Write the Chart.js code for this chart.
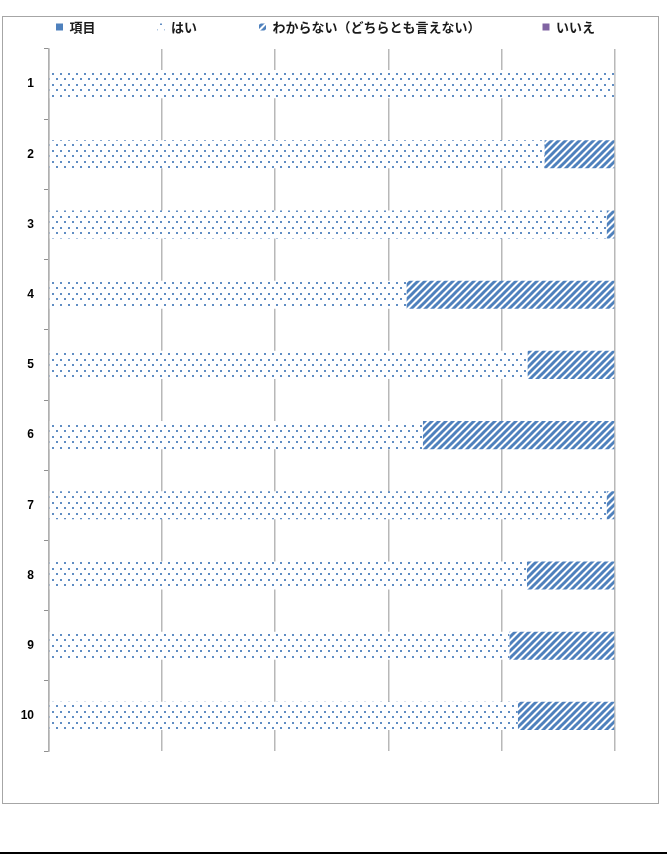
<!DOCTYPE html>
<html lang="ja">
<head>
<meta charset="utf-8">
<title>アンケート結果</title>
<script src="https://cdn.jsdelivr.net/npm/chart.js@4/dist/chart.umd.min.js"></script>
<style>
  html, body { margin: 0; padding: 0; background: #fff; }
  .chart-frame {
    position: absolute;
    left: 2px;
    top: 16px;
    width: 655px;
    height: 786px;
    border: 1px solid #a6a6a6;
  }
  .bottom-rule {
    position: absolute;
    left: 0;
    top: 852px;
    width: 667px;
    height: 2px;
    background: #000;
  }
</style>
</head>
<body>
<div class="chart-frame">
  <canvas id="surveyChart" width="655" height="786"></canvas>
</div>
<div class="bottom-rule"></div>

<script>
// question numbers
const categories = ['1', '2', '3', '4', '5', '6', '7', '8', '9', '10'];

// share of answers (%)
const itemValues = [0, 0, 0, 0, 0, 0, 0, 0, 0, 0];
const yesValues = [100, 87.6, 98.6, 63.2, 84.6, 66.1, 98.6, 84.5, 81.4, 82.9];
const unsureValues = [0, 12.4, 1.4, 36.8, 15.4, 33.9, 1.4, 15.5, 18.6, 17.1];
const noValues = [0, 0, 0, 0, 0, 0, 0, 0, 0, 0];

const seriesNames = ['項目', 'はい', 'わからない（どちらとも言えない）', 'いいえ'];
const xTicks = [0, 20, 40, 60, 80, 100];

const BLUE = '#4f81bd';
const PURPLE = '#8064a2';

const ctx = document.getElementById('surveyChart').getContext('2d');

// dotted fill (はい)
function dotPattern() {
  const c = document.createElement('canvas');
  c.width = 8;
  c.height = 11;
  const g = c.getContext('2d');
  g.fillStyle = '#fff';
  g.fillRect(0, 0, 8, 11);
  g.fillStyle = 'rgba(79,129,189,0.9)';
  g.fillRect(1, 1, 2, 2);
  g.fillRect(5, 6, 2, 2);
  return ctx.createPattern(c, 'repeat');
}

// wide upward diagonal (わからない)
function hatchPattern() {
  const s = 7;
  const c = document.createElement('canvas');
  c.width = s;
  c.height = s;
  const g = c.getContext('2d');
  g.fillStyle = '#fff';
  g.fillRect(0, 0, s, s);
  g.strokeStyle = BLUE;
  g.lineWidth = 3;
  g.beginPath();
  g.moveTo(-1, s + 1); g.lineTo(s + 1, -1);
  g.moveTo(-1, 1); g.lineTo(1, -1);
  g.moveTo(s - 1, s + 1); g.lineTo(s + 1, s - 1);
  g.stroke();
  return ctx.createPattern(c, 'repeat');
}

// legend: one wide row, but only a short band above the plot
const legendSpacing = 62;
const legendShift = -9;
const legendBand = {
  id: 'legendBand',
  beforeLayout(chart) {
    const lg = chart.legend;
    if (lg && !lg._banded) {
      lg._banded = true;
      const build = lg.buildLabels;
      lg.buildLabels = function () { this.maxWidth = 900; build.call(this); };
      const fit = lg.fit;
      lg.fit = function () { fit.call(this); this.height = 32 + 58.5; };
      const draw = lg.draw;
      lg.draw = function () {
        const r = this.right;
        this.right = 900;
        draw.call(this);
        this.right = r;
      };
    }
  }
};

new Chart(ctx, {
  type: 'bar',
  data: {
    labels: categories,
    datasets: [
      { label: seriesNames[0], data: itemValues, backgroundColor: BLUE },
      { label: seriesNames[1], data: yesValues, backgroundColor: dotPattern() },
      { label: seriesNames[2], data: unsureValues, backgroundColor: hatchPattern() },
      { label: seriesNames[3], data: noValues, backgroundColor: PURPLE }
    ]
  },
  options: {
    indexAxis: 'y',
    responsive: false,
    animation: false,
    barPercentage: 0.4,
    categoryPercentage: 1.0,
    borderWidth: 0,
    layout: {
      padding: { top: 10 - legendSpacing - 6.5, left: legendShift, right: 43.5, bottom: 52 }
    },
    plugins: {
      tooltip: { enabled: false },
      legend: {
        position: 'top',
        align: 'start',
        labels: {
          boxWidth: 7,
          boxHeight: 7,
          padding: legendSpacing,
          color: '#1a1a1a',
          font: { family: "'Noto Sans CJK JP'", size: 13, weight: 'bold' }
        }
      }
    },
    scales: {
      x: {
        stacked: true,
        min: 0,
        max: 100,
        afterBuildTicks(scale) { scale.ticks = xTicks.map(v => ({ value: v })); },
        ticks: { display: false },
        border: { display: false },
        grid: { color: '#b8b8b8', lineWidth: 1.5, drawTicks: false }
      },
      y: {
        stacked: true,
        afterFit(scale) { scale.width = 46 - legendShift; },
        border: { display: true, color: '#b0b0b0', width: 1.5 },
        grid: {
          offset: true,
          drawOnChartArea: false,
          drawTicks: true,
          tickLength: 5,
          color: '#909090'
        },
        ticks: {
          padding: 10,
          color: '#000',
          font: { family: "'Liberation Sans'", size: 12, weight: 'bold' }
        }
      }
    }
  },
  plugins: [legendBand]
});
</script>
</body>
</html>
